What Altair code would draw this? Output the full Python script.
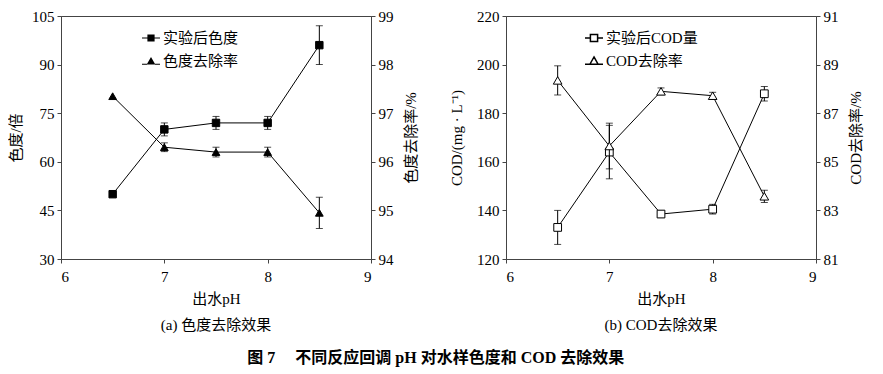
import altair as alt
import pandas as pd

# ---------------- data ----------------
ph = [6.5, 7.0, 7.5, 8.0, 8.5]

chroma = [50, 70, 72, 72, 96]
chroma_err = [0, 2, 2, 2, 6]
chroma_rate = [97.35, 96.3, 96.2, 96.2, 94.95]
chroma_rate_err = [0, 0.09, 0.1, 0.1, 0.32]

cod = [133, 164, 138.5, 140.5, 188]
cod_err = [7, 11, 1.4, 2, 3]
cod_rate = [88.35, 85.65, 87.9, 87.72, 83.58]
cod_rate_err = [0.6, 0.94, 0.14, 0.14, 0.25]

x_ticks = [6, 7, 8, 9]
a_left_ticks = [30, 45, 60, 75, 90, 105]
a_right_ticks = [94, 95, 96, 97, 98, 99]
b_left_ticks = [120, 140, 160, 180, 200, 220]
b_right_ticks = [81, 83, 85, 87, 89, 91]

a_names = ["实验后色度", "色度去除率"]
b_names = ["实验后COD量", "COD去除率"]

FONT = "Liberation Serif, Noto Sans CJK SC"
W, H = 310, 243

# legend symbols (line + marker); filled versions use thin bars for the line
SQ_FILLED = "M-1,-0.055H-0.4V0.055H-1Z M0.4,-0.055H1V0.055H0.4Z M-0.4,-0.4H0.4V0.4H-0.4Z"
TRI_FILLED = ("M-1,0.3H-0.45V0.41H-1Z M0.45,0.3H1V0.41H0.45Z "
              "M0,-0.45L0.48,0.4L-0.48,0.4Z")
SQ_OPEN = "M-1,0L-0.4,0M0.4,0L1,0M-0.4,-0.4H0.4V0.4H-0.4Z"
TRI_OPEN = "M-1,0.35L-0.45,0.35M0.45,0.35L1,0.35M0,-0.45L0.45,0.35L-0.45,0.35Z"


def xenc():
    return alt.X("ph:Q", scale=alt.Scale(domain=[6, 9], nice=False),
                 axis=alt.Axis(values=x_ticks, title="出水pH", format="d"))


def series(vals, errs, ticks, title, orient, shape, filled, size, tpad):
    df = pd.DataFrame({"ph": ph, "v": vals, "e": errs})
    df["lo"] = df["v"] - df["e"]
    df["hi"] = df["v"] + df["e"]
    if orient == "left":
        ax = alt.Axis(values=ticks, title=title, orient=orient,
                      titleAngle=270, titleBaseline="bottom", titlePadding=tpad)
    else:
        ax = alt.Axis(values=ticks, title=title, orient=orient,
                      titleAngle=270, titleBaseline="top", titlePadding=tpad)
    sc = alt.Scale(domain=[ticks[0], ticks[-1]], nice=False, zero=False)
    y = alt.Y("v:Q", scale=sc, axis=ax)
    base = alt.Chart(df)
    line = base.mark_line(color="black", strokeWidth=1).encode(x=xenc(), y=y)
    errdf = base.transform_filter("datum.e > 0")
    stem = errdf.mark_rule(color="black", strokeWidth=1).encode(
        x=xenc(), y=alt.Y("lo:Q", scale=sc, axis=ax), y2="hi:Q")
    cap_lo = errdf.mark_tick(color="black", orient="horizontal", size=7, thickness=1).encode(
        x=xenc(), y=alt.Y("lo:Q", scale=sc, axis=ax))
    cap_hi = errdf.mark_tick(color="black", orient="horizontal", size=7, thickness=1).encode(
        x=xenc(), y=alt.Y("hi:Q", scale=sc, axis=ax))
    pts = base.mark_point(shape=shape, filled=True, opacity=1,
                          fill="black" if filled else "white",
                          stroke="black", strokeWidth=1, size=size).encode(x=xenc(), y=y)
    return alt.layer(line, stem, cap_lo, cap_hi, pts)


def legend_layer(names, filled, lx, ly):
    df = pd.DataFrame({"s": names})
    rng = [SQ_FILLED, TRI_FILLED] if filled else [SQ_OPEN, TRI_OPEN]
    return alt.Chart(df).mark_point(opacity=0, filled=filled, color="black",
                                    strokeWidth=1).encode(
        shape=alt.Shape("s:N", scale=alt.Scale(domain=names, range=rng),
                        legend=alt.Legend(orient="none", legendX=lx, legendY=ly, title=None,
                                          symbolSize=324, symbolOpacity=1,
                                          labelFont=FONT, labelFontSize=15, labelColor="black",
                                          rowPadding=5, labelOffset=2)))


def caption(text):
    return alt.TitleParams(text, orient="bottom", font=FONT, fontSize=15,
                           fontWeight="normal", offset=12, anchor="middle")


panel_a = alt.layer(
    series(chroma, chroma_err, a_left_ticks, "色度/倍", "left", "square", True, 55, 8),
    series(chroma_rate, chroma_rate_err, a_right_ticks, "色度去除率/%", "right", "triangle-up", True, 60, 10),
    legend_layer(a_names, True, 80, 12),
).resolve_scale(y="independent", shape="independent").properties(
    width=W, height=H, title=caption("(a) 色度去除效果"))

panel_b = alt.layer(
    series(cod, cod_err, b_left_ticks, "COD/(mg · L⁻¹)", "left", "square", False, 60, 12),
    series(cod_rate, cod_rate_err, b_right_ticks, "COD去除率/%", "right", "triangle-up", False, 75, 10),
    legend_layer(b_names, False, 78, 12),
).resolve_scale(y="independent", shape="independent").properties(
    width=W, height=H, title=caption("(b) COD去除效果"))

chart = alt.hconcat(panel_a, panel_b, spacing=29).resolve_scale(shape="independent").properties(
    title=alt.TitleParams("图 7　 不同反应回调 pH 对水样色度和 COD 去除效果", orient="bottom",
                          font=FONT, fontSize=16, fontWeight="bold", anchor="middle", offset=16),
    padding={"left": 0, "top": 0, "right": 5, "bottom": 5},
).configure_view(stroke="#444", strokeWidth=1).configure_axis(
    grid=False, domainColor="#444", tickColor="#444", tickSize=4,
    labelFont=FONT, labelFontSize=15, labelColor="black", labelPadding=3,
    titleFont=FONT, titleFontSize=15, titleFontWeight="normal", titleColor="black",
).configure_axisX(labelPadding=6, titlePadding=7)

chart.save("out.html", embed_options={"renderer": "svg", "actions": False})
